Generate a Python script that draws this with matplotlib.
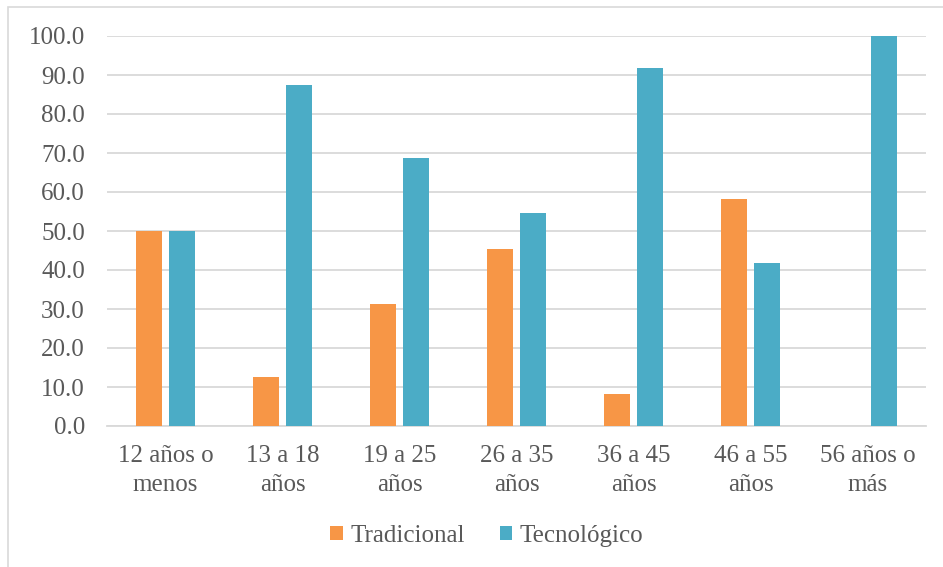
import matplotlib
matplotlib.use("Agg")
import matplotlib.pyplot as plt
import numpy as np
from matplotlib.patches import Rectangle

categories = ["12 años o\nmenos", "13 a 18\naños", "19 a 25\naños", "26 a 35\naños",
              "36 a 45\naños", "46 a 55\naños", "56 años o\nmás"]
tradicional = [50.0, 12.5, 31.3, 45.5, 8.3, 58.3, 0.0]
tecnologico = [50.0, 87.5, 68.7, 54.5, 91.7, 41.7, 100.0]
yticks = [0, 10, 20, 30, 40, 50, 60, 70, 80, 90, 100]

plt.rcParams['font.family'] = ['Liberation Serif', 'DejaVu Serif']
txt = '#595959'
fs = 18

fig = plt.figure(figsize=(9.43, 5.67), dpi=100)
fig.patches.append(Rectangle((8/943, -0.01), 1.0, 1 - 7/567 + 0.01, transform=fig.transFigure,
                             fill=False, edgecolor='#D9D9D9', linewidth=1.2))
ax = fig.add_axes([107/943, 1 - 426/567, (926 - 107)/943, (426 - 36)/567])

x = np.arange(len(categories))
w = 0.225
gap = 0.06
ax.bar(x - (w + gap)/2, tradicional, w, color='#F79646', label='Tradicional', zorder=3)
ax.bar(x + (w + gap)/2, tecnologico, w, color='#4BACC6', label='Tecnológico', zorder=3)

ax.set_xlim(-0.5, len(categories) - 0.5)
ax.set_ylim(0, 100)
ax.set_yticks(yticks)
ax.set_yticklabels([f"{v:.1f}" for v in yticks], color=txt, fontsize=fs)
ax.set_xticks(x)
ax.set_xticklabels(categories, color=txt, fontsize=fs, linespacing=1.4)
ax.tick_params(axis='both', length=0)
ax.tick_params(axis='y', pad=16)
ax.tick_params(axis='x', pad=14)
ax.grid(axis='y', color='#D9D9D9', linewidth=1.3, zorder=0)
for s in ['top', 'right', 'left']:
    ax.spines[s].set_visible(False)
ax.spines['bottom'].set_color('#D9D9D9')
ax.spines['bottom'].set_linewidth(1.3)

leg = fig.legend(loc='center', bbox_to_anchor=(487/943, 1 - 536/567), ncol=2, frameon=False,
                 fontsize=fs, handlelength=0.5, handleheight=0.5, columnspacing=1.4,
                 handletextpad=0.3)
for t in leg.get_texts():
    t.set_color(txt)

fig.savefig("out.png", dpi=100)
